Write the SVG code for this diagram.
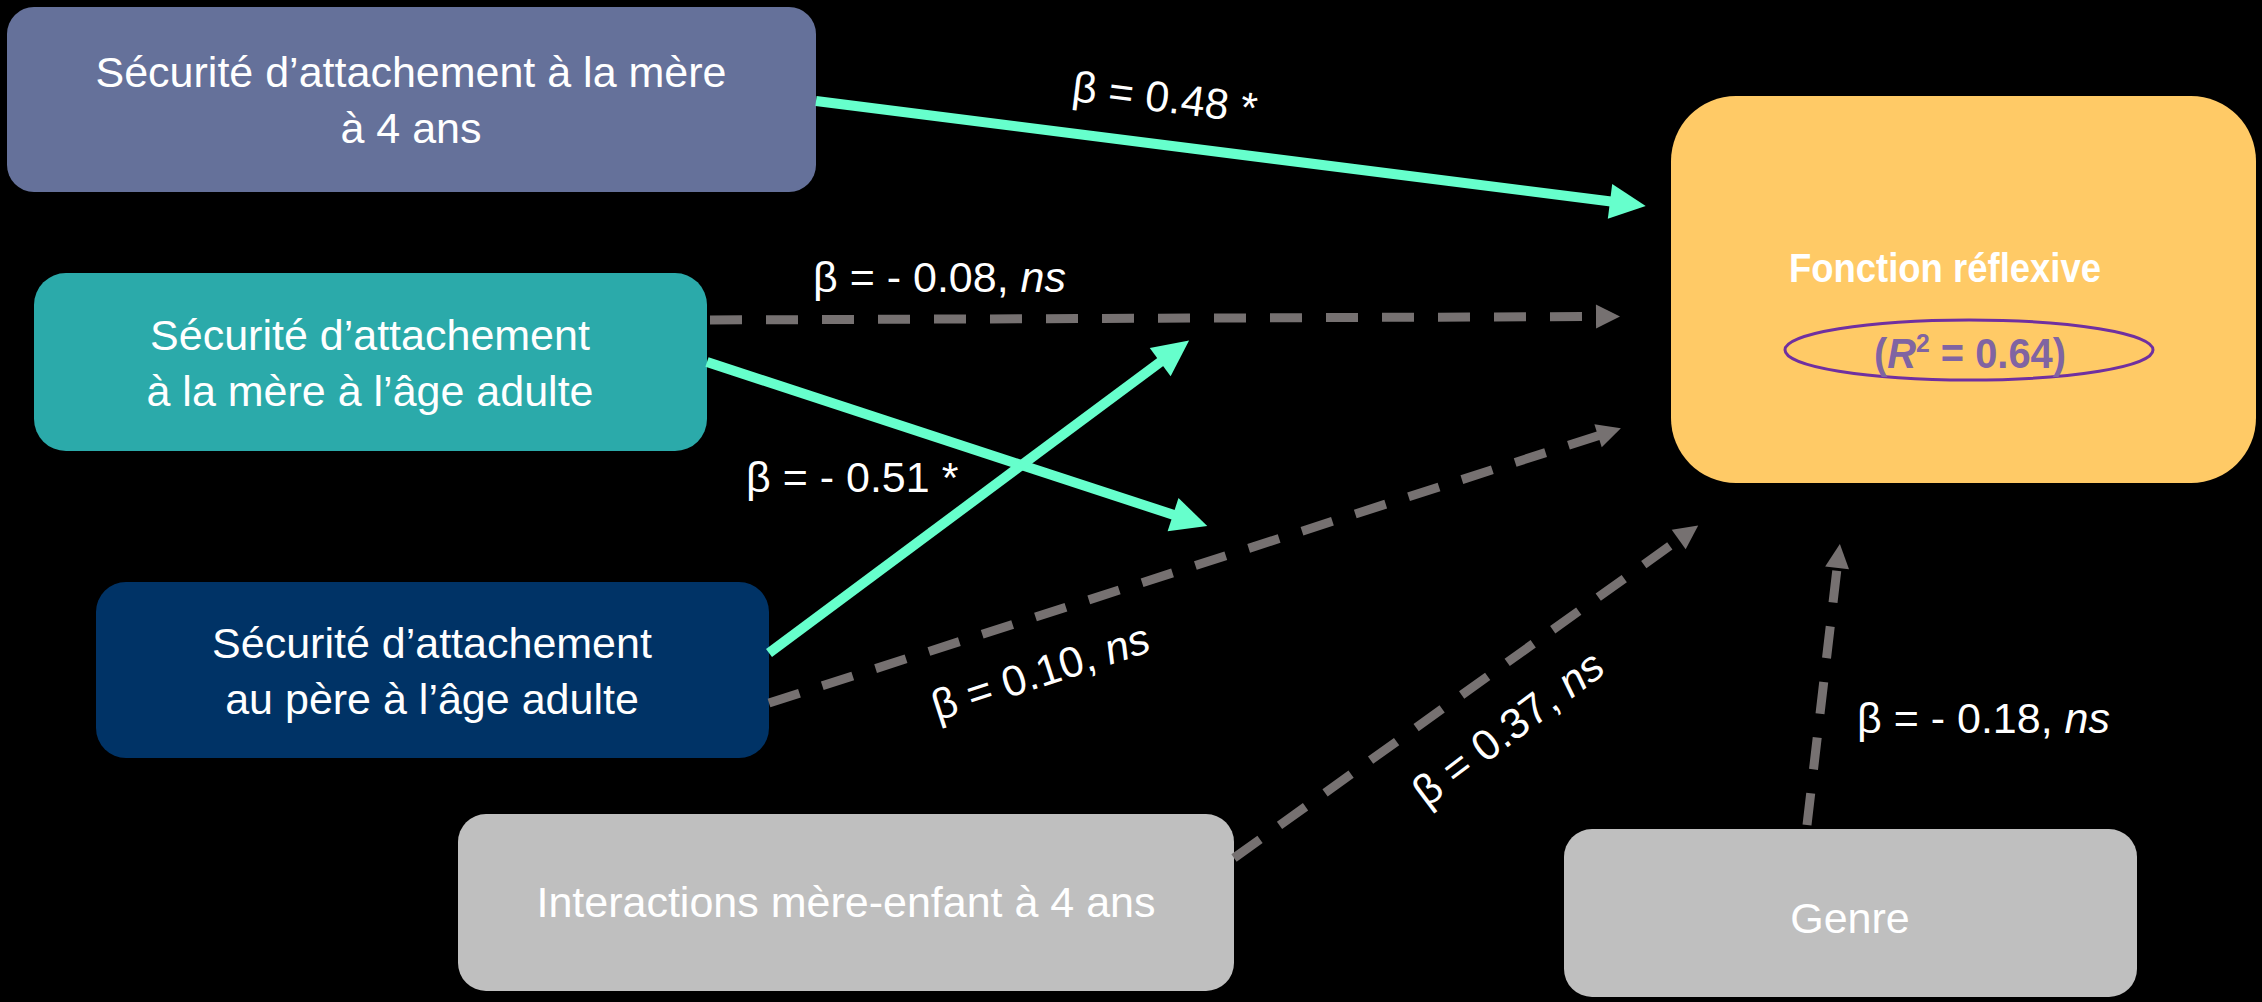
<svg xmlns="http://www.w3.org/2000/svg" width="2262" height="1002" viewBox="0 0 2262 1002">
<style>
.t{font-family:"Liberation Sans",Arial,sans-serif;font-size:43px;fill:#FFFFFF;text-anchor:middle}
.lbl{font-family:"Liberation Sans",Arial,sans-serif;font-size:43px;fill:#FFFFFF}
.it{font-style:italic}
.g{fill:none;stroke:#66FFCC;stroke-width:10}
.d{fill:none;stroke:#767171;stroke-width:9;stroke-dasharray:32 24}
</style>
<defs>
<marker id="ag" markerUnits="userSpaceOnUse" orient="auto" refX="1" refY="0" markerWidth="40" markerHeight="40" overflow="visible">
<path d="M0,-17.5 L36,0 L0,17.5 Z" fill="#66FFCC"/>
</marker>
<marker id="ad" markerUnits="userSpaceOnUse" orient="auto" refX="1" refY="0" markerWidth="30" markerHeight="30" overflow="visible">
<path d="M0,-12 L24,0 L0,12 Z" fill="#767171"/>
</marker>
</defs>
<rect width="2262" height="1002" fill="#000000"/>

<g id="n1">
<rect x="7" y="7" width="809" height="185" rx="27" fill="#65719A"/>
<text class="t" x="411" y="87">Sécurité d’attachement à la mère</text>
<text class="t" x="411" y="143">à 4 ans</text>
</g>
<g id="n2">
<rect x="34" y="273" width="673" height="178" rx="32" fill="#2BAAAA"/>
<text class="t" x="370" y="350">Sécurité d’attachement</text>
<text class="t" x="370" y="406">à la mère à l’âge adulte</text>
</g>
<g id="n3">
<rect x="96" y="582" width="673" height="176" rx="30" fill="#003366"/>
<text class="t" x="432" y="658">Sécurité d’attachement</text>
<text class="t" x="432" y="714">au père à l’âge adulte</text>
</g>
<g id="n4">
<rect x="458" y="814" width="776" height="177" rx="28" fill="#BFBFBF"/>
<text class="t" x="846" y="917">Interactions mère-enfant à 4 ans</text>
</g>
<g id="n5">
<rect x="1564" y="829" width="573" height="168" rx="28" fill="#BFBFBF"/>
<text class="t" x="1850" y="933">Genre</text>
</g>
<g id="target">
<rect x="1671" y="96" width="585" height="387" rx="65" fill="#FFCA66"/>
<text x="1945" y="282" font-family="Liberation Sans, Arial, sans-serif" font-size="41" font-weight="bold" fill="#FFFFFF" text-anchor="middle" textLength="312" lengthAdjust="spacingAndGlyphs">Fonction réflexive</text>
<ellipse cx="1969" cy="350" rx="184" ry="30" fill="none" stroke="#7030A0" stroke-width="3"/>
<text x="1970" y="368" font-family="Liberation Sans, Arial, sans-serif" font-size="42" font-weight="bold" fill="#8064A2" text-anchor="middle" textLength="192" lengthAdjust="spacingAndGlyphs">(<tspan font-style="italic">R</tspan><tspan font-size="26" dy="-16">2</tspan><tspan dy="16"> = 0.64)</tspan></text>
</g>

<g id="connectors">
<line class="g" x1="816" y1="101" x2="1611" y2="201.5" marker-end="url(#ag)"/>
<line class="d" x1="710" y1="320" x2="1597" y2="316.5" marker-end="url(#ad)"/>
<line class="g" x1="707" y1="362" x2="1174" y2="515" marker-end="url(#ag)"/>
<line class="g" x1="769" y1="653" x2="1161" y2="361.5" marker-end="url(#ag)"/>
<line class="d" x1="769" y1="703" x2="1599" y2="435.4" marker-end="url(#ad)"/>
<line class="d" x1="1234" y1="858" x2="1679.5" y2="539" marker-end="url(#ad)"/>
<line class="d" x1="1807" y1="825" x2="1837.2" y2="566.8" marker-end="url(#ad)"/>

<text class="lbl" text-anchor="middle" x="1163" y="112" transform="rotate(7 1163 112)">β = 0.48 *</text>
<text class="lbl" x="813" y="292">β = - 0.08, <tspan class="it">ns</tspan></text>
<text class="lbl" x="746" y="492">β = - 0.51 *</text>
<text class="lbl" text-anchor="middle" x="1045" y="686" transform="rotate(-18 1045 686)">β = 0.10, <tspan class="it">ns</tspan></text>
<text class="lbl" text-anchor="middle" x="1517" y="740" transform="rotate(-37 1517 740)">β = 0.37, <tspan class="it">ns</tspan></text>
<text class="lbl" x="1857" y="733">β = - 0.18, <tspan class="it">ns</tspan></text>
</g>
</svg>
